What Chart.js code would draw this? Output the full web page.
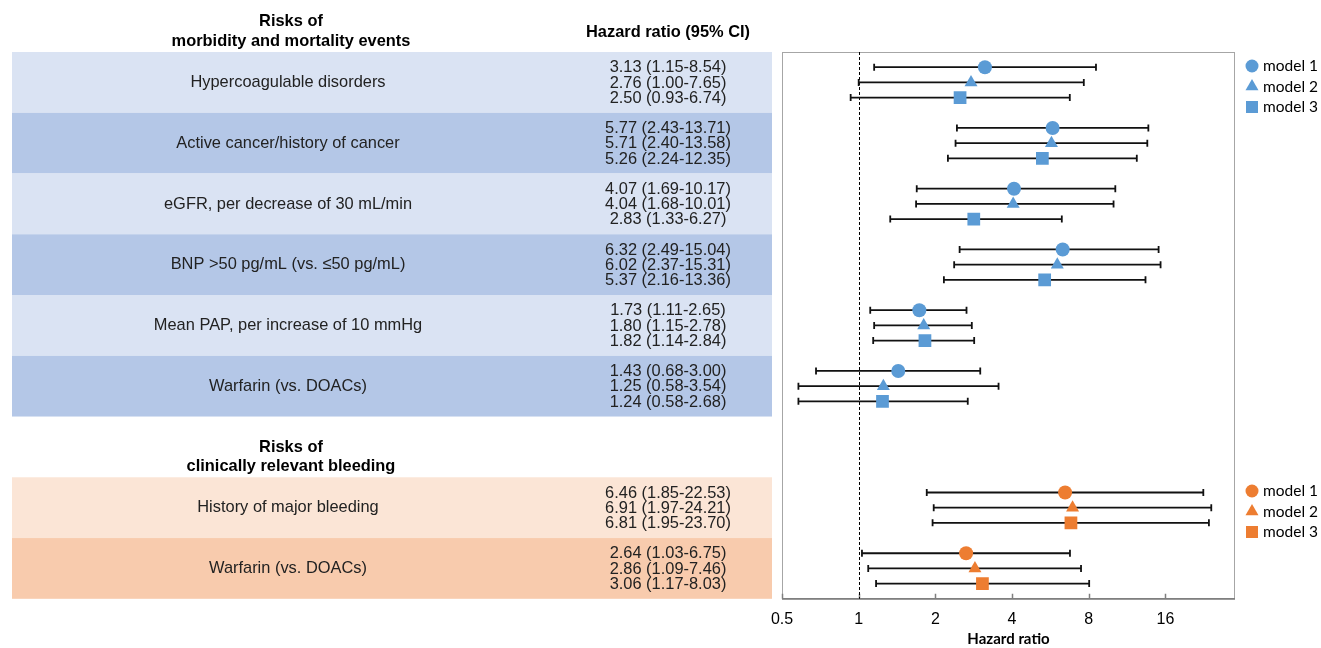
<!DOCTYPE html>
<html>
<head>
<meta charset="utf-8">
<script src="https://cdn.jsdelivr.net/npm/chart.js@4.4.1/dist/chart.umd.min.js"></script>
<style>
  html, body { margin: 0; padding: 0; background: #fff; }
  #forest { display: block; }
</style>
</head>
<body>
<canvas id="forest" width="1321" height="648"></canvas>
<script>
// ---- data ----
const mortalityLabels = [
    'Hypercoagulable disorders',
    'Active cancer/history of cancer',
    'eGFR, per decrease of 30 mL/min',
    'BNP >50 pg/mL (vs. \u226450 pg/mL)',
    'Mean PAP, per increase of 10 mmHg',
    'Warfarin (vs. DOACs)'
];
// [model 1, model 2, model 3] per risk factor
const mortalityHR   = [[3.13, 2.76, 2.50], [5.77, 5.71, 5.26], [4.07, 4.04, 2.83], [6.32, 6.02, 5.37], [1.73, 1.80, 1.82], [1.43, 1.25, 1.24]];
const mortalityLow  = [[1.15, 1.00, 0.93], [2.43, 2.40, 2.24], [1.69, 1.68, 1.33], [2.49, 2.37, 2.16], [1.11, 1.15, 1.14], [0.68, 0.58, 0.58]];
const mortalityHigh = [[8.54, 7.65, 6.74], [13.71, 13.58, 12.35], [10.17, 10.01, 6.27], [15.04, 15.31, 13.36], [2.65, 2.78, 2.84], [3.00, 3.54, 2.68]];

const bleedingLabels = ['History of major bleeding', 'Warfarin (vs. DOACs)'];
const bleedingHR   = [[6.46, 6.91, 6.81], [2.64, 2.86, 3.06]];
const bleedingLow  = [[1.85, 1.97, 1.95], [1.03, 1.09, 1.17]];
const bleedingHigh = [[22.53, 24.21, 23.70], [6.75, 7.46, 8.03]];

const modelNames = ['model 1', 'model 2', 'model 3'];
const xTicks = [0.5, 1, 2, 4, 8, 16];

// ---- look ----
const blue = '#5b9bd5';
const orange = '#ed7d31';
const markers = [['circle', 7], ['triangle', 7.5], ['rect', 9]];
const bleedStart = 28;   // row where the bleeding block begins

Chart.defaults.font.family = '"Liberation Sans", Arial, sans-serif';
Chart.defaults.color = '#000';

const fmt = (hr, lo, hi) => hr.toFixed(2) + ' (' + lo.toFixed(2) + '-' + hi.toFixed(2) + ')';

function makeSets(hr, low, high, offset, color) {
    return modelNames.map((name, m) => ({
        label: name,
        data: hr.map((row, g) => ({ x: row[m], y: offset + 4 * g + m, lo: low[g][m], hi: high[g][m] })),
        pointStyle: markers[m][0],
        pointRadius: markers[m][1],
        pointHoverRadius: markers[m][1],
        backgroundColor: color,
        borderWidth: 0
    }));
}

const datasets = makeSets(mortalityHR, mortalityLow, mortalityHigh, 0, blue)
    .concat(makeSets(bleedingHR, bleedingLow, bleedingHigh, bleedStart, orange));

// slightly condensed text
function narrowText(ctx, text, x, y, sx) {
    ctx.save();
    ctx.translate(x, y);
    ctx.scale(sx, 1);
    ctx.fillText(text, 0, 0);
    ctx.restore();
}

// left-hand table, drawn on the shared row scale
const tablePlugin = {
    id: 'table',
    beforeDraw(chart) {
        const ctx = chart.ctx, y = chart.scales.y;
        const labelX = 288, ciX = 668;
        ctx.save();
        const block = (labels, hr, low, high, start, light, dark, title) => {
            labels.forEach((lab, g) => {
                const top = y.getPixelForValue(start + 4 * g - 1);
                const bot = y.getPixelForValue(start + 4 * g + 3);
                ctx.fillStyle = g % 2 ? dark : light;
                ctx.fillRect(12, top, 760, bot - top);
            });
            ctx.fillStyle = '#222';
            ctx.textBaseline = 'middle';
            ctx.textAlign = 'center';
            ctx.font = '17px "Liberation Sans", Arial, sans-serif';
            labels.forEach((lab, g) => {
                narrowText(ctx, lab, labelX, y.getPixelForValue(start + 4 * g + 1), 0.965);
                for (let m = 0; m < 3; m++) {
                    narrowText(ctx, fmt(hr[g][m], low[g][m], high[g][m]), ciX, y.getPixelForValue(start + 4 * g + m) + 0.5, 0.965);
                }
            });
            ctx.fillStyle = '#000';
            ctx.font = 'bold 17px "Liberation Sans", Arial, sans-serif';
            narrowText(ctx, 'Risks of', labelX + 3, y.getPixelForValue(start - 3), 0.965);
            narrowText(ctx, title, labelX + 3, y.getPixelForValue(start - 1.7), 0.965);
        };
        block(mortalityLabels, mortalityHR, mortalityLow, mortalityHigh, 0, '#dae3f3', '#b4c7e7', 'morbidity and mortality events');
        block(bleedingLabels, bleedingHR, bleedingLow, bleedingHigh, bleedStart, '#fbe5d6', '#f8cbad', 'clinically relevant bleeding');
        ctx.font = 'bold 17px "Liberation Sans", Arial, sans-serif';
        narrowText(ctx, 'Hazard ratio (95% CI)', ciX, y.getPixelForValue(-2.3), 0.965);
        ctx.restore();
    }
};

// frame, reference line at 1 and the CI whiskers
const whiskerPlugin = {
    id: 'whiskers',
    beforeDatasetsDraw(chart) {
        const { ctx, chartArea: a, scales: { x, y } } = chart;
        ctx.save();
        ctx.strokeStyle = '#a6a6a6';
        ctx.lineWidth = 1;
        ctx.strokeRect(a.left + 0.5, a.top + 0.5, a.right - a.left - 1, a.bottom - a.top);
        ctx.strokeStyle = '#7f7f7f';
        ctx.lineWidth = 1.5;
        ctx.beginPath();
        ctx.moveTo(a.left, a.bottom);
        ctx.lineTo(a.right, a.bottom);
        xTicks.forEach(t => {
            const px = Math.round(x.getPixelForValue(t)) + 0.5;
            ctx.moveTo(px, a.bottom);
            ctx.lineTo(px, a.bottom - 5);
        });
        ctx.stroke();

        const one = Math.round(x.getPixelForValue(1)) + 0.5;
        ctx.strokeStyle = '#000';
        ctx.lineWidth = 1;
        ctx.setLineDash([3, 2]);
        ctx.beginPath();
        ctx.moveTo(one, a.top);
        ctx.lineTo(one, a.bottom);
        ctx.stroke();
        ctx.setLineDash([]);

        ctx.strokeStyle = '#111';
        ctx.lineWidth = 1.8;
        chart.data.datasets.forEach(ds => ds.data.forEach(p => {
            const py = y.getPixelForValue(p.y);
            const x1 = x.getPixelForValue(p.lo), x2 = x.getPixelForValue(p.hi);
            ctx.beginPath();
            ctx.moveTo(x1, py); ctx.lineTo(x2, py);
            ctx.moveTo(x1, py - 3.5); ctx.lineTo(x1, py + 3.5);
            ctx.moveTo(x2, py - 3.5); ctx.lineTo(x2, py + 3.5);
            ctx.stroke();
        }));
        ctx.restore();
    }
};

// two legends, one per block
const legendPlugin = {
    id: 'twoLegends',
    afterDraw(chart) {
        const ctx = chart.ctx;
        const sizes = [6.5, 7.5, 8.5];
        const draw = (color, top) => {
            modelNames.forEach((name, m) => {
                const yy = top + m * 20.5;
                ctx.fillStyle = color;
                Chart.helpers.drawPoint(ctx, { pointStyle: markers[m][0], radius: sizes[m], rotation: 0, borderWidth: 0 }, 1252, yy);
                ctx.fillStyle = '#000';
                ctx.font = '15.5px Lato, sans-serif';
                ctx.textAlign = 'left';
                ctx.textBaseline = 'middle';
                ctx.fillText(name, 1263, yy);
            });
        };
        ctx.save();
        draw(blue, 66);
        draw(orange, 491);
        ctx.restore();
    }
};

new Chart(document.getElementById('forest'), {
    type: 'scatter',
    data: { datasets: datasets },
    options: {
        responsive: false,
        animation: false,
        layout: { padding: { left: 782, right: 86, top: 52, bottom: 0 } },
        plugins: { legend: { display: false }, tooltip: { enabled: false } },
        scales: {
            x: {
                type: 'logarithmic',
                min: 0.5,
                max: 30,
                grid: { display: false, drawTicks: false },
                border: { display: false },
                afterBuildTicks: scale => { scale.ticks = xTicks.map(v => ({ value: v })); },
                ticks: {
                    padding: 11,
                    font: { size: 16 },
                    color: '#000',
                    maxRotation: 0,
                    callback: v => String(v)
                },
                title: {
                    display: true,
                    text: 'Hazard ratio',
                    color: '#000',
                    font: { family: 'Lato, sans-serif', size: 15, weight: 'bold', lineHeight: 1 },
                    padding: { top: -8, bottom: 1 }
                }
            },
            y: {
                type: 'linear',
                min: -1,
                max: 35,
                reverse: true,
                display: false
            }
        }
    },
    plugins: [tablePlugin, whiskerPlugin, legendPlugin]
});
</script>
</body>
</html>
